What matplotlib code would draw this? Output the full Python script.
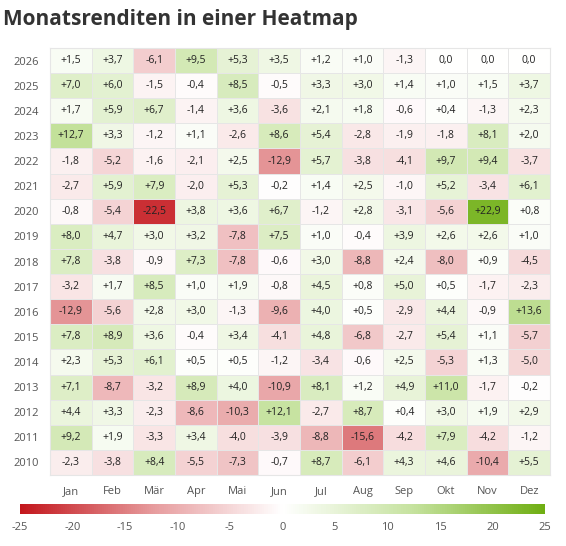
import matplotlib
matplotlib.use("Agg")
import matplotlib.pyplot as plt
import numpy as np
from matplotlib.colors import LinearSegmentedColormap, Normalize

plt.rcParams['font.family'] = ['Open Sans', 'DejaVu Sans']
plt.rcParams['axes.unicode_minus'] = False

months = ["Jan","Feb","Mär","Apr","Mai","Jun","Jul","Aug","Sep","Okt","Nov","Dez"]
years = [2026,2025,2024,2023,2022,2021,2020,2019,2018,2017,2016,2015,2014,2013,2012,2011,2010]
values = [
 [1.5,3.7,-6.1,9.5,5.3,3.5,1.2,1.0,-1.3,0.0,0.0,0.0],
 [7.0,6.0,-1.5,-0.4,8.5,-0.5,3.3,3.0,1.4,1.0,1.5,3.7],
 [1.7,5.9,6.7,-1.4,3.6,-3.6,2.1,1.8,-0.6,0.4,-1.3,2.3],
 [12.7,3.3,-1.2,1.1,-2.6,8.6,5.4,-2.8,-1.9,-1.8,8.1,2.0],
 [-1.8,-5.2,-1.6,-2.1,2.5,-12.9,5.7,-3.8,-4.1,9.7,9.4,-3.7],
 [-2.7,5.9,7.9,-2.0,5.3,-0.2,1.4,2.5,-1.0,5.2,-3.4,6.1],
 [-0.8,-5.4,-22.5,3.8,3.6,6.7,-1.2,2.8,-3.1,-5.6,22.9,0.8],
 [8.0,4.7,3.0,3.2,-7.8,7.5,1.0,-0.4,3.9,2.6,2.6,1.0],
 [7.8,-3.8,-0.9,7.3,-7.8,-0.6,3.0,-8.8,2.4,-8.0,0.9,-4.5],
 [-3.2,1.7,8.5,1.0,1.9,-0.8,4.5,0.8,5.0,0.5,-1.7,-2.3],
 [-12.9,-5.6,2.8,3.0,-1.3,-9.6,4.0,0.5,-2.9,4.4,-0.9,13.6],
 [7.8,8.9,3.6,-0.4,3.4,-4.1,4.8,-6.8,-2.7,5.4,1.1,-5.7],
 [2.3,5.3,6.1,0.5,0.5,-1.2,-3.4,-0.6,2.5,-5.3,1.3,-5.0],
 [7.1,-8.7,-3.2,8.9,4.0,-10.9,8.1,1.2,4.9,11.0,-1.7,-0.2],
 [4.4,3.3,-2.3,-8.6,-10.3,12.1,-2.7,8.7,0.4,3.0,1.9,2.9],
 [9.2,1.9,-3.3,3.4,-4.0,-3.9,-8.8,-15.6,-4.2,7.9,-4.2,-1.2],
 [-2.3,-3.8,8.4,-5.5,-7.3,-0.7,8.7,-6.1,4.3,4.6,-10.4,5.5],
]
cbar_ticks = [-25,-20,-15,-10,-5,0,5,10,15,20,25]

cmap = LinearSegmentedColormap.from_list("rg", ["#c3161c", "#e69a9c", "#ffffff", "#c5e29e", "#6fae12"])
norm = Normalize(-25, 25)
data = np.array(values)

fig = plt.figure(figsize=(5.66, 5.46), dpi=100)
fig.text(0.005, 0.965, "Monatsrenditen in einer Heatmap", fontsize=15, fontweight='bold',
         color='#333333', va='center', ha='left')
ax = fig.add_axes([50/566, 1-475/546, 500/566, 427/546])
ax.pcolormesh(np.arange(13), np.arange(len(years)+1), data[::-1], cmap=cmap, norm=norm,
              edgecolor='#e6e6e6', linewidth=0.5)
for i, row in enumerate(values):
    y = len(years) - 1 - i + 0.5
    for j, v in enumerate(row):
        s = ("%+.1f" % v).replace('.', ',') if v != 0 else "0,0"
        ax.text(j+0.5, y, s, ha='center', va='center', fontsize=7.5, color='#222222')
ax.set_xlim(0, 12); ax.set_ylim(0, len(years))
ax.set_xticks(np.arange(12)+0.5, months)
ax.set_yticks(np.arange(len(years))+0.5, years[::-1])
ax.tick_params(length=0, labelsize=8, colors='#555555', pad=8)
for s in ax.spines.values():
    s.set_color('#e6e6e6')

cax = fig.add_axes([20/566, 1-514/546, 525/566, 10/546])
sm = matplotlib.cm.ScalarMappable(norm=norm, cmap=cmap)
cb = fig.colorbar(sm, cax=cax, orientation='horizontal')
cb.set_ticks(cbar_ticks)
cb.outline.set_visible(False)
cax.tick_params(length=0, labelsize=8, colors='#555555', pad=6)
fig.savefig("out.png", dpi=100)
